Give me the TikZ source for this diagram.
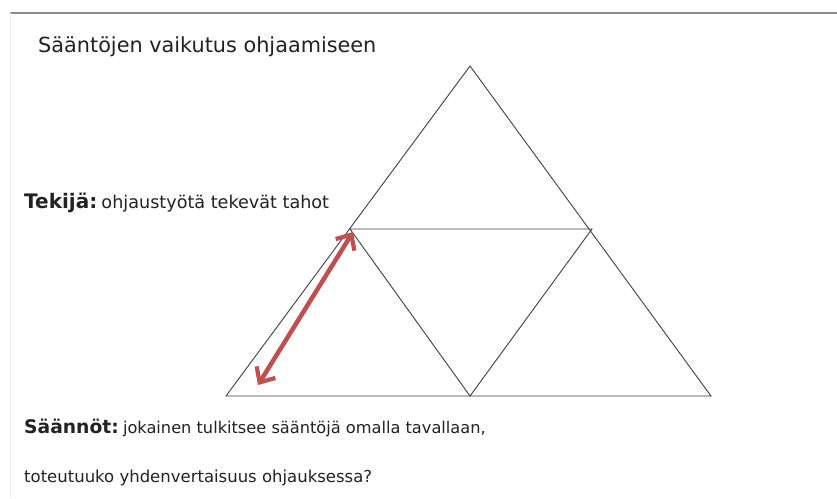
\documentclass[tikz,border=0pt]{standalone}
\usepackage{fontspec}
\setmainfont{DejaVu Sans}
\usetikzlibrary{arrows.meta}
\definecolor{arrowred}{HTML}{C0504D}
\definecolor{txt}{HTML}{222222}
\tikzset{
  tri/.style={draw=black!75, line width=0.9pt, line join=miter},
  lbl/.style={anchor=west, inner sep=0pt, text=txt},
  rel/.style={draw=arrowred, line width=4.5pt, {Straight Barb[length=12pt,width=22pt,line width=4.2pt]}-{Straight Barb[length=12pt,width=22pt,line width=4.2pt]}}
}
\begin{document}
\begin{tikzpicture}[x=1pt,y=-1pt]
\useasboundingbox (0,0) rectangle (837,498);
\fill[white] (0,0) rectangle (837,498);
\draw[black!45, line width=1.6pt] (10,13) -- (837,13);
\draw[black!8, line width=0.8pt] (10,13) -- (10,498);
% triangle vertices
\coordinate (A) at (470,66);
\coordinate (L) at (226,396);
\coordinate (R) at (711,396);
\coordinate (ML) at (350,229);
\coordinate (MR) at (592,229);
\coordinate (MB) at (470,396);
\draw[tri] (A) -- (L) -- (R) -- cycle;
\draw[tri] (ML) -- (MR) -- (MB) -- cycle;
% arrow
\coordinate (p1) at (353,232);
\coordinate (p2) at (258,385);
\draw[rel] (p2) -- (p1);
% texts
\node[lbl, font=\fontsize{20.8}{22}\selectfont] (title) at (38,47) {Sääntöjen vaikutus ohjaamiseen};
\node[lbl] (tek) at (24,203) {{\fontsize{20}{22}\selectfont\bfseries Tekijä:} {\fontsize{17.6}{19}\selectfont ohjaustyötä tekevät tahot}};
\node[lbl] (saa) at (24,428) {{\fontsize{18.7}{20}\selectfont\bfseries Säännöt:} {\fontsize{16.2}{19}\selectfont jokainen tulkitsee sääntöjä omalla tavallaan,}};
\node[lbl, font=\fontsize{16.5}{19}\selectfont] (tot) at (24,478) {toteutuuko yhdenvertaisuus ohjauksessa?};
\end{tikzpicture}
\end{document}
